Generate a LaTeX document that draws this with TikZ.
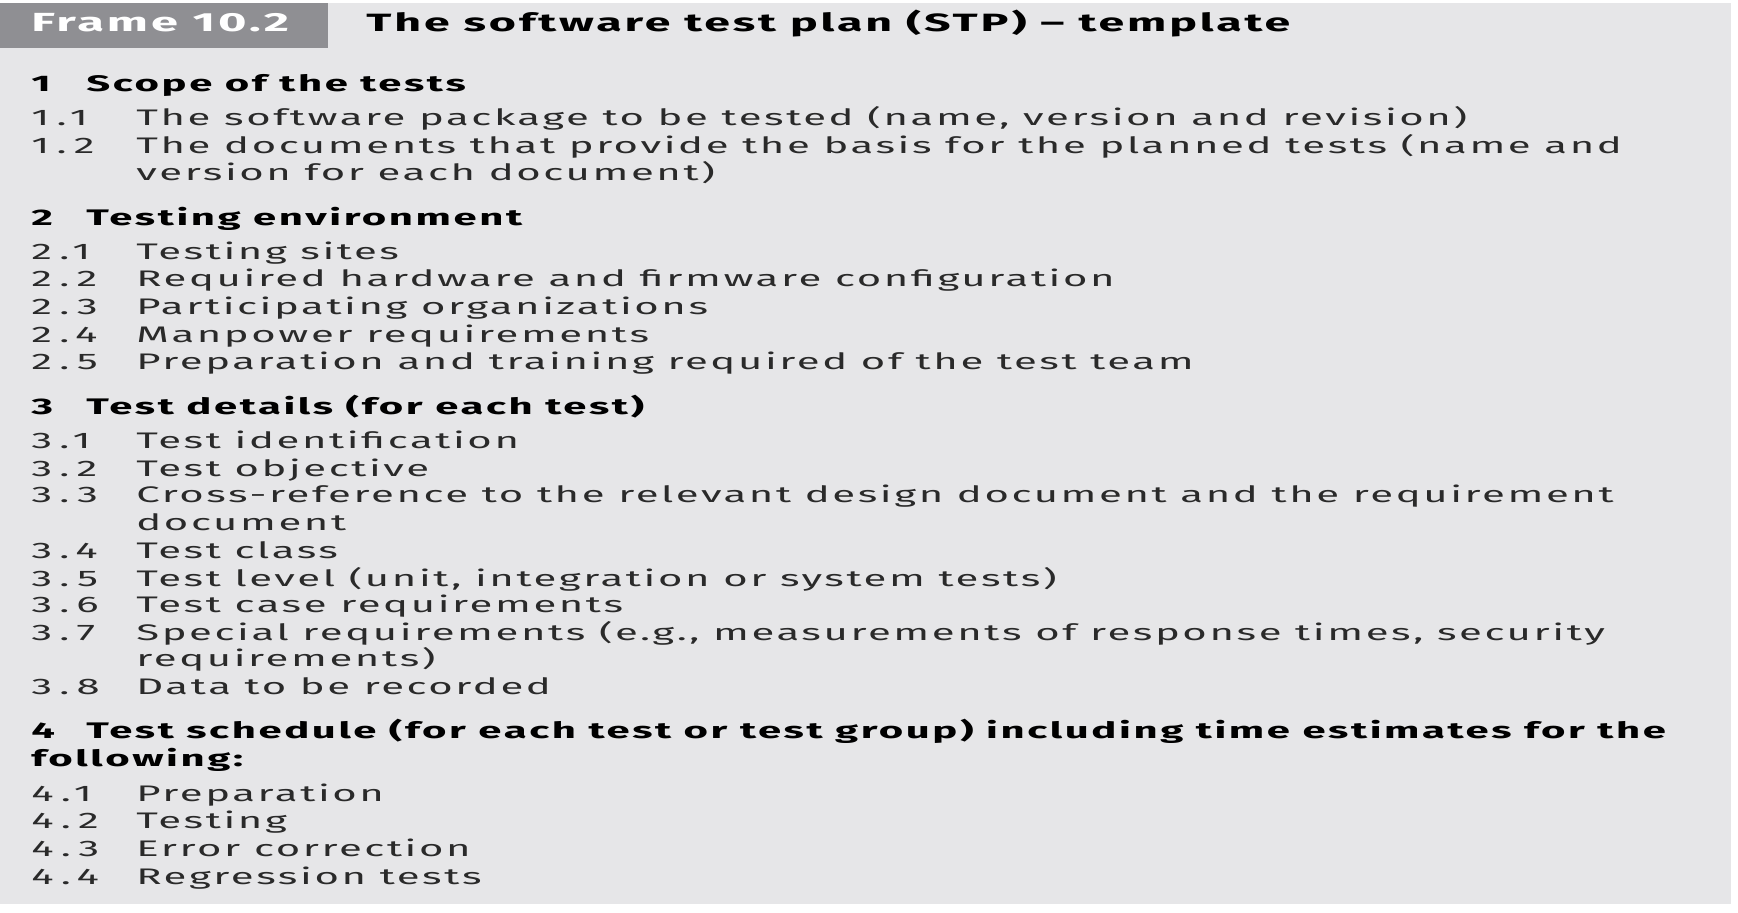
\documentclass[tikz,border=0pt]{standalone}
\usepackage{fontspec}
\setmainfont{Fira Sans}[FakeStretch=1.86,LetterSpace=11.5]
\usetikzlibrary{positioning}

\definecolor{panelgrey}{HTML}{E6E6E8}
\definecolor{framegrey}{HTML}{8F8F93}
\definecolor{itemink}{HTML}{2A2A2A}

\tikzset{
  txt/.style={anchor=base west,inner sep=0pt,text=itemink,font=\fontsize{11.25}{13.8}\selectfont},
  num/.style={txt,font=\fontsize{11.25}{13.8}\selectfont\addfontfeature{LetterSpace=32}},
  head/.style={txt,text=black,font=\fontsize{11.25}{13.8}\selectfont\bfseries},
  title/.style={head,font=\fontsize{12.5}{13.8}\selectfont\bfseries},
}

\begin{document}
\begin{tikzpicture}[x=0.5pt,y=-0.5pt]

  % page and panel
  \useasboundingbox (0,0) rectangle (1738,912);
  \fill[white] (0,0) rectangle (1738,912);
  \fill[panelgrey] (0,3) rectangle (1731,904);
  \fill[framegrey] (0,3) rectangle (328,48);

  \node[title,text=white,font=\fontsize{13.1}{13.8}\selectfont\bfseries] (frame) at (31,31) {Frame 10.2};
  \node[title] (caption) at (366,31) {The software test plan (STP) -- template};

  % section 1
  \node[head] (h1n) at (31,91) {1};
  \node[head] (h1) at (86,91) {Scope of the tests};
  \node[num] (n11) at (31,125) {1.1};
  \node[txt] (t11) at (136,125) {The software package to be tested (name, version and revision)};
  \node[num] (n12) at (31,153) {1.2};
  \node[txt] (t12) at (136,153) {The documents that provide the basis for the planned tests (name and};
  \node[txt] (t12b) at (136,180) {version for each document)};

  % section 2
  \node[head] (h2n) at (31,225) {2};
  \node[head] (h2) at (86,225) {Testing environment};
  \node[num] (n21) at (31,259) {2.1};
  \node[txt] (t21) at (136,259) {Testing sites};
  \node[num] (n22) at (31,286) {2.2};
  \node[txt] (t22) at (136,286) {Required hardware and firmware configuration};
  \node[num] (n23) at (31,314) {2.3};
  \node[txt] (t23) at (136,314) {Participating organizations};
  \node[num] (n24) at (31,342) {2.4};
  \node[txt] (t24) at (136,342) {Manpower requirements};
  \node[num] (n25) at (31,369) {2.5};
  \node[txt] (t25) at (136,369) {Preparation and training required of the test team};

  % section 3
  \node[head] (h3n) at (31,414) {3};
  \node[head] (h3) at (86,414) {Test details (for each test)};
  \node[num] (n31) at (31,448) {3.1};
  \node[txt] (t31) at (136,448) {Test identification};
  \node[num] (n32) at (31,476) {3.2};
  \node[txt] (t32) at (136,476) {Test objective};
  \node[num] (n33) at (31,502) {3.3};
  \node[txt] (t33) at (136,502) {Cross-reference to the relevant design document and the requirement};
  \node[txt] (t33b) at (136,530) {document};
  \node[num] (n34) at (31,558) {3.4};
  \node[txt] (t34) at (136,558) {Test class};
  \node[num] (n35) at (31,586) {3.5};
  \node[txt] (t35) at (136,586) {Test level (unit, integration or system tests)};
  \node[num] (n36) at (31,612) {3.6};
  \node[txt] (t36) at (136,612) {Test case requirements};
  \node[num] (n37) at (31,640) {3.7};
  \node[txt] (t37) at (136,640) {Special requirements (e.g., measurements of response times, security};
  \node[txt] (t37b) at (136,666) {requirements)};
  \node[num] (n38) at (31,694) {3.8};
  \node[txt] (t38) at (136,694) {Data to be recorded};

  % section 4
  \node[head] (h4n) at (31,738) {4};
  \node[head] (h4) at (86,738) {Test schedule (for each test or test group) including time estimates for the};
  \node[head] (h4b) at (31,766) {following:};
  \node[num] (n41) at (31,801) {4.1};
  \node[txt] (t41) at (136,801) {Preparation};
  \node[num] (n42) at (31,828) {4.2};
  \node[txt] (t42) at (136,828) {Testing};
  \node[num] (n43) at (31,856) {4.3};
  \node[txt] (t43) at (136,856) {Error correction};
  \node[num] (n44) at (31,884) {4.4};
  \node[txt] (t44) at (136,884) {Regression tests};

\end{tikzpicture}
\end{document}
